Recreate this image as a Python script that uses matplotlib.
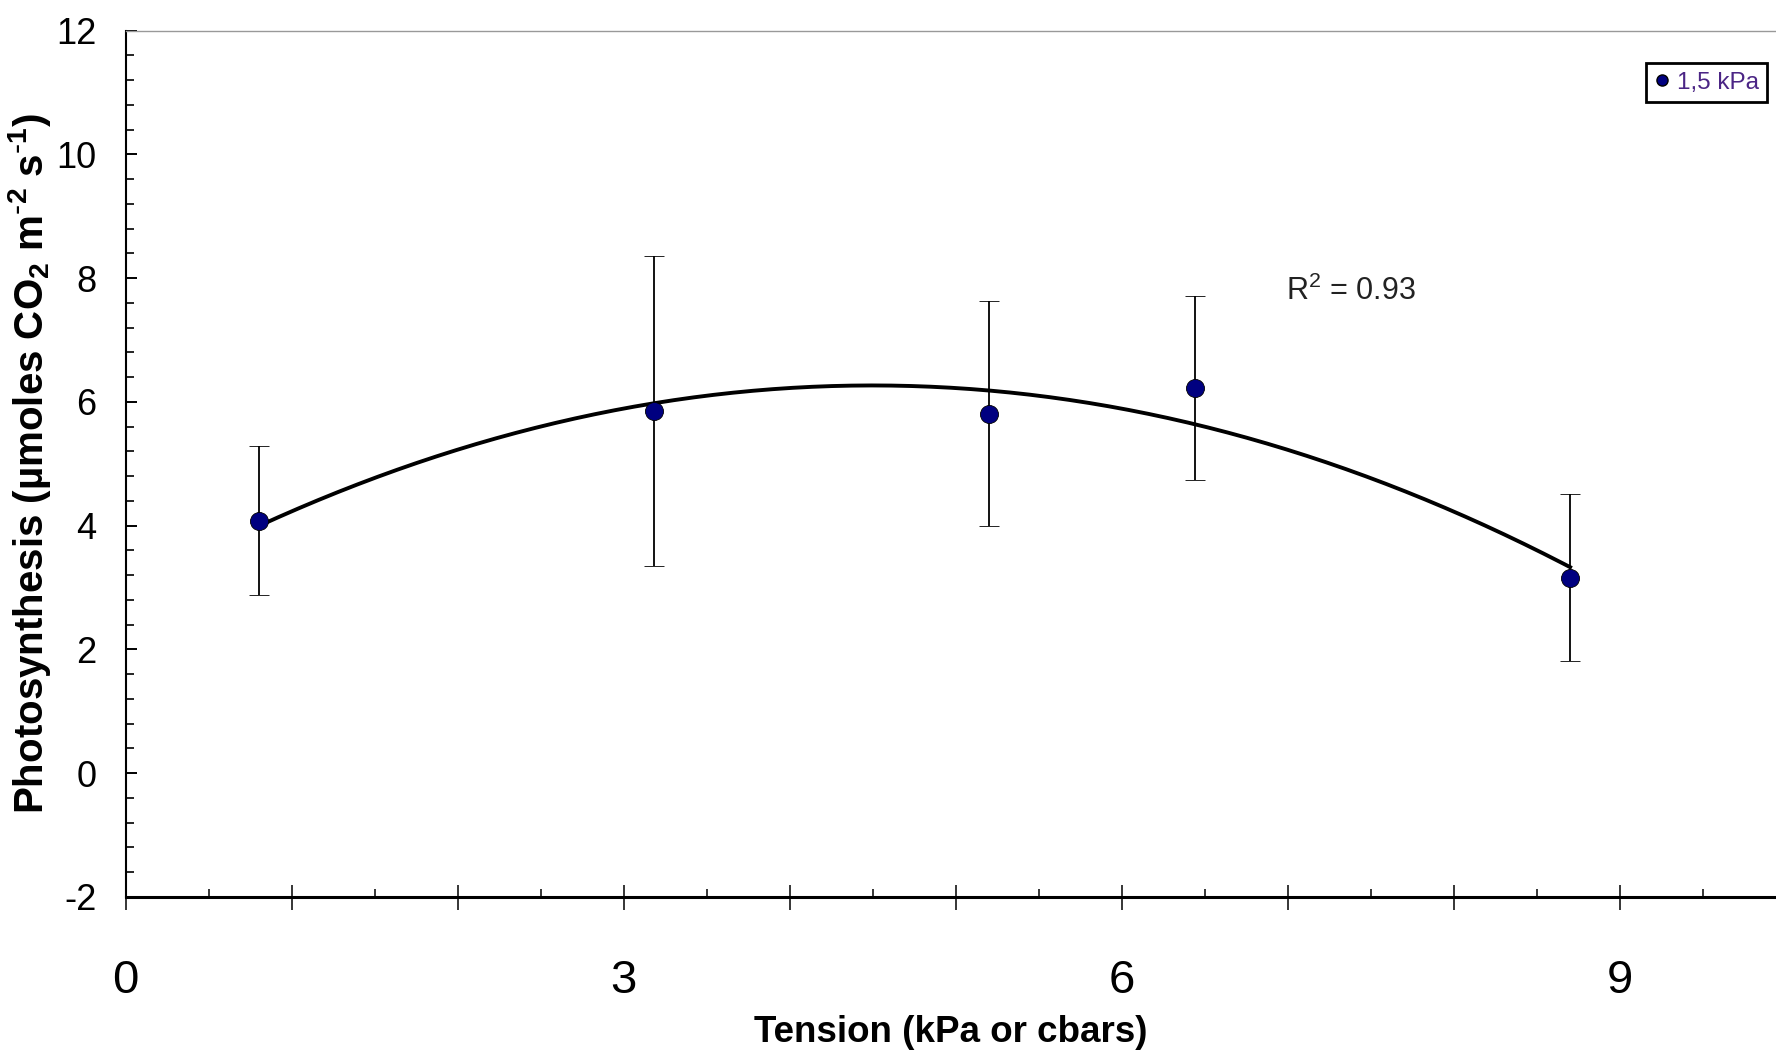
import numpy as np
import matplotlib.pyplot as plt
from matplotlib import font_manager
from matplotlib.lines import Line2D
from matplotlib.ticker import MultipleLocator, FixedLocator, FixedFormatter

# Data
tension = [0.80, 3.18, 5.20, 6.44, 8.70]
photo = [4.08, 5.85, 5.81, 6.22, 3.16]
photo_err = [1.20, 2.50, 1.82, 1.49, 1.35]
series_label = "1,5 kPa"
r2_label = "R$^2$ = 0.93"

# pick a narrow face if there is one
names = {f.name for f in font_manager.fontManager.ttflist}
narrow = "Liberation Sans Narrow" if "Liberation Sans Narrow" in names else None

plt.rcParams['font.family'] = ['Liberation Sans', 'DejaVu Sans']
plt.rcParams['mathtext.default'] = 'regular'
plt.rcParams['axes.unicode_minus'] = False

fig = plt.figure(figsize=(17.76, 10.54), dpi=100)
ax = fig.add_axes([0.0708, 0.149, 0.9292, 0.822])

# quadratic trend line through the points
coef = np.polyfit(tension, photo, 2)
xs = np.linspace(min(tension), max(tension), 200)
ax.plot(xs, np.polyval(coef, xs), color='black', linewidth=2.8, zorder=2)

ax.errorbar(tension, photo, yerr=photo_err, fmt='o', color='#000080',
            markeredgecolor='#000000', markeredgewidth=0.6, markersize=13,
            ecolor='black', elinewidth=1.3, capsize=7, capthick=1.3, zorder=3)

ax.set_xlim(0, 9.94)
ax.set_ylim(-2, 12)

# x ticks: one per unit, labels every 3
ax.xaxis.set_major_locator(FixedLocator(np.arange(0, 10)))
ax.xaxis.set_major_formatter(FixedFormatter(['0', '', '', '3', '', '', '6', '', '', '9']))
ax.xaxis.set_minor_locator(MultipleLocator(0.5))
ax.yaxis.set_major_locator(MultipleLocator(2))
ax.yaxis.set_minor_locator(MultipleLocator(0.4))

ax.tick_params(axis='x', which='major', direction='inout', length=18, width=1.1,
               labelsize=34, pad=36)
ax.tick_params(axis='x', which='minor', direction='in', length=6, width=1.1)
ax.tick_params(axis='y', which='major', direction='in', length=8, width=1.4,
               labelsize=26, pad=21)
ax.tick_params(axis='y', which='minor', direction='in', length=6, width=1.2)

ax.spines['right'].set_visible(False)
ax.spines['top'].set_color('#999999')
ax.spines['top'].set_linewidth(1.0)
ax.spines['left'].set_linewidth(1.5)
ax.spines['bottom'].set_linewidth(2.2)

if narrow:
    ax.set_xlabel("Tension (kPa or cbars)", family=[narrow, 'Liberation Sans'],
                  fontsize=32, fontweight='bold', labelpad=6)
else:
    ax.set_xlabel("Tension (kPa or cbars)", fontsize=26.5, fontweight='bold', labelpad=8)
ax.set_ylabel(r"Photosynthesis (µmoles CO$_2$ m$^{\text{-}2}$ s$^{\text{-}1}$)", fontsize=29,
              fontweight='bold', labelpad=2)

if narrow:
    ax.text(7.38, 7.79, r2_label, family=[narrow, 'Liberation Sans'], fontsize=26,
            ha='center', va='center', color='#222222')
else:
    ax.text(7.38, 7.79, r2_label, fontsize=22, ha='center', va='center', color='#222222')

handle = Line2D([], [], linestyle='none', marker='o', color='#000080',
                markeredgecolor='black', markersize=8)
leg = ax.legend([handle], [series_label], loc='upper right',
                bbox_to_anchor=(0.995, 0.940), bbox_transform=fig.transFigure,
                fancybox=False, framealpha=1, edgecolor='black',
                fontsize=20 if narrow else 17.5, handlelength=0.6, handletextpad=0.3,
                borderpad=0.35, borderaxespad=0)
leg.get_frame().set_linewidth(2)
for t in leg.get_texts():
    t.set_color('#4b2585')
    if narrow:
        t.set_family([narrow, 'Liberation Sans'])

fig.savefig('out.png', dpi=100)
